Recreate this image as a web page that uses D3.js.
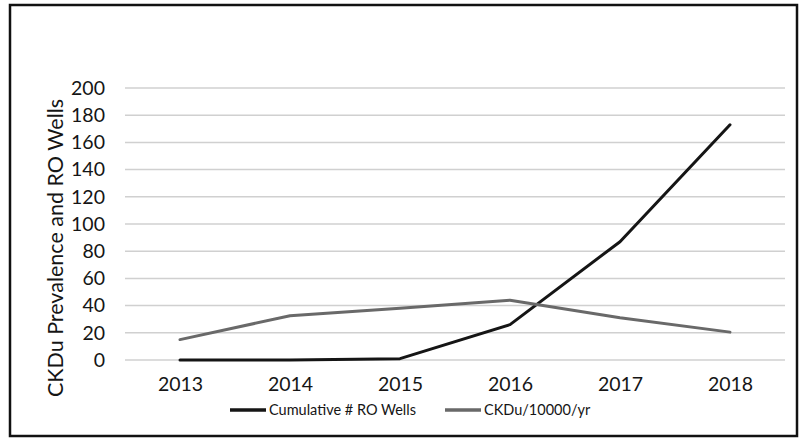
<!DOCTYPE html>
<html><head><meta charset="utf-8">
<script src="https://cdn.jsdelivr.net/npm/d3@7"></script>
<style>
html,body{margin:0;padding:0;background:#fff;}
svg{display:block;font-family:Lato,"Open Sans",sans-serif;}
</style></head>
<body>
<svg id="chart" width="800" height="445"></svg>
<script>
const years = ["2013","2014","2015","2016","2017","2018"];
const roWells = [0, 0, 1, 26, 87, 173];
const ckdu = [15, 32.5, 38, 44, 31, 20.5];
const yTicks = [0,20,40,60,80,100,120,140,160,180,200];
const seriesNames = ["Cumulative # RO Wells", "CKDu/10000/yr"];
const seriesColors = ["#151515", "#696969"];

const svg = d3.select("#chart");
// outer frame
svg.append("rect").attr("x",10).attr("y",5).attr("width",787).attr("height",431)
  .attr("fill","#fff").attr("stroke","#111").attr("stroke-width",2.5);

const x = d3.scalePoint().domain(years).range([180,730]);
const y = d3.scaleLinear().domain([0,200]).range([360,88]);

// gridlines
svg.append("g").selectAll("line").data(yTicks).join("line")
  .attr("x1",125).attr("x2",785)
  .attr("y1",d=>y(d)).attr("y2",d=>y(d))
  .attr("stroke","#d0d0d0").attr("stroke-width",1.5);

// y axis
const yAxis = d3.axisLeft(y).tickValues(yTicks).tickSize(0).tickPadding(0);
const gy = svg.append("g").attr("transform","translate(105,0)").call(yAxis);
gy.select(".domain").remove();
gy.selectAll("text").attr("font-size",19.5).attr("fill","#151515").attr("font-family","Lato, 'Open Sans', sans-serif");

// x axis
const xAxis = d3.axisBottom(x).tickSize(0).tickPadding(0);
const gx = svg.append("g").attr("transform","translate(0,377)").call(xAxis);
gx.select(".domain").remove();
gx.selectAll("text").attr("font-size",19.5).attr("fill","#151515").attr("font-family","Lato, 'Open Sans', sans-serif");

// y title
svg.append("text").attr("transform","translate(63,248) rotate(-90)")
  .attr("text-anchor","middle").attr("font-size",21.5).attr("fill","#151515")
  .text("CKDu Prevalence and RO Wells");

// lines
const line = d3.line().x((d,i)=>x(years[i])).y(d=>y(d));
[roWells, ckdu].forEach((s,k)=>{
  svg.append("path").datum(s).attr("d",line)
    .attr("fill","none").attr("stroke",seriesColors[k]).attr("stroke-width",3)
    .attr("stroke-linejoin","round").attr("stroke-linecap","round");
});

// legend
const legendX = [230, 445];
const lg = svg.append("g");
seriesNames.forEach((n,k)=>{
  lg.append("line").attr("x1",legendX[k]).attr("x2",legendX[k]+36)
    .attr("y1",410).attr("y2",410).attr("stroke",seriesColors[k]).attr("stroke-width",3.5);
  lg.append("text").attr("x",legendX[k]+39).attr("y",415).attr("font-size",14.5)
    .attr("fill","#151515").text(n);
});
</script>
</body></html>
